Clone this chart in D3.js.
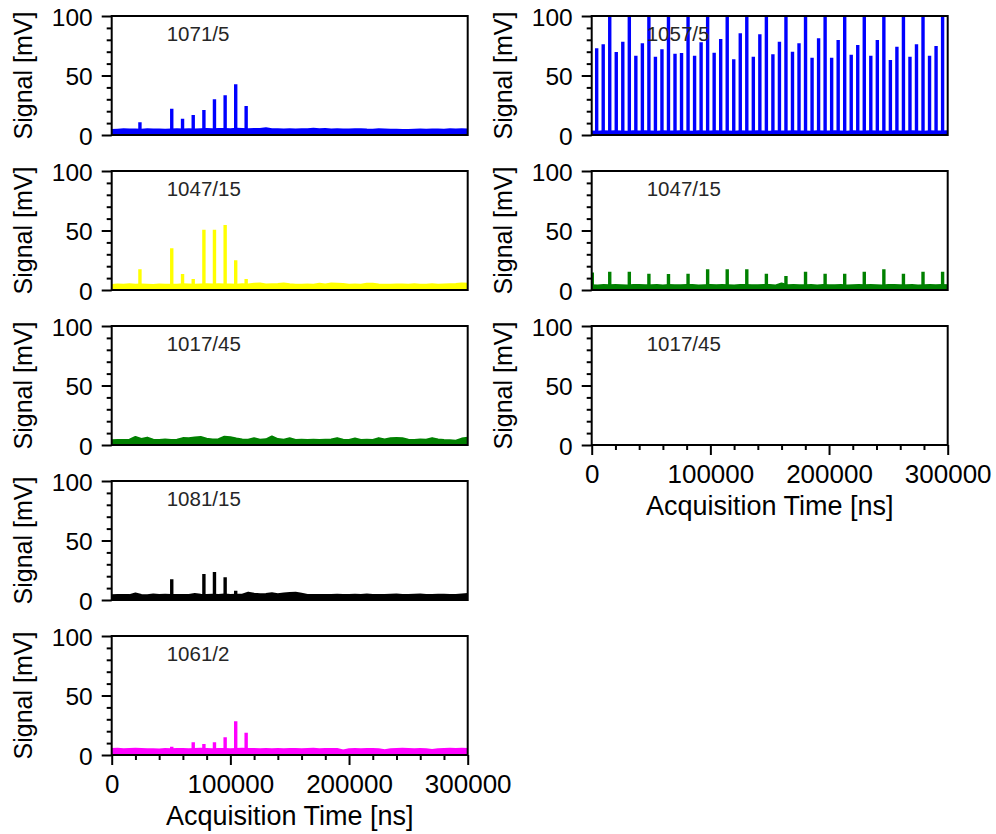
<!DOCTYPE html>
<html>
<head>
<meta charset="utf-8">
<script src="https://cdn.jsdelivr.net/npm/d3@7"></script>
<style>
  html, body { margin: 0; padding: 0; background: #fff; }
  svg { display: block; }
  text { font-family: "Liberation Sans", Arial, sans-serif; }
</style>
</head>
<body>
<svg id="chart" width="996" height="834"></svg>
<script>
// ---- Data -------------------------------------------------------------
// Channel names (filter wavelength / bandwidth)
const channelNames = ["1071/5", "1047/15", "1017/45", "1081/15", "1061/2", "1057/5", "1047/15", "1017/45"];

// Baseline sample times (ns) for the noise floor traces
const baselineTimes = d3.range(0, 300001, 5000);

// Noise floor (mV) per channel, one value per baseline sample
const base1071 = [4.2,4.5,4.8,4.6,4.7,4.5,4.8,4.6,4.7,4.5, 4.6,4.8,4.7,4.9,4.6,4.8,5.0,4.9,5.1,5.0,
  4.9,5.2,5.0,4.9,5.0,5.1,5.6,4.8,4.9,4.7, 4.8,4.6,4.9,4.8,5.2,4.8,5.0,4.7,4.8,4.6,
  4.6,4.8,4.9,4.6,4.5,4.9,4.7,4.5,4.4,4.3, 4.3,4.4,4.6,4.5,4.7,4.6,4.5,4.8,4.6,4.9,4.7];
const base1047a = [4.3,4.6,4.5,4.8,4.4,4.7,4.5,4.3,4.6,4.4, 4.5,4.4,4.8,4.6,4.5,4.7,4.9,4.6,4.8,4.7,
  4.6,4.5,4.8,4.6,5.2,5.5,4.7,4.8,5.0,5.4, 4.8,4.5,4.4,4.6,4.5,5.2,4.6,5.4,5.3,5.1,
  4.5,4.6,4.4,5.3,5.2,4.6,4.4,4.5,4.7,4.6, 4.4,4.8,4.5,4.5,4.9,4.4,4.6,4.8,5.0,5.4,5.3];
const base1017a = [4.0,4.3,4.2,4.5,6.8,5.0,6.2,4.4,4.3,4.6, 4.2,4.5,5.8,5.6,6.4,6.8,5.2,4.6,4.8,7.0,
  6.6,5.4,4.6,4.4,5.6,4.5,4.8,7.2,5.0,4.4, 5.6,4.3,4.5,4.2,4.4,4.3,4.5,4.6,5.8,4.4,
  4.3,5.4,4.2,4.5,4.3,5.8,4.6,5.6,5.8,5.6, 4.4,4.3,4.6,4.5,5.8,4.6,4.2,4.0,3.6,5.4,6.0];
const base1081 = [4.0,4.2,4.3,4.1,5.4,4.2,4.0,4.6,4.2,4.4, 4.1,4.3,4.2,4.3,5.0,4.4,4.3,4.5,4.2,4.6,
  4.3,4.4,4.5,6.2,5.2,4.8,5.0,5.6,4.9,5.4, 5.8,6.0,5.2,4.3,4.2,4.1,4.3,4.2,4.4,4.3,
  4.2,4.5,4.3,4.6,4.2,4.3,4.1,4.4,4.6,4.3, 4.2,4.4,4.7,4.3,4.2,4.4,4.5,4.3,4.2,4.6,5.0];
const base1061 = [5.0,5.2,4.8,5.1,5.3,5.0,4.8,4.9,4.7,5.0, 4.8,5.0,5.1,4.9,5.0,5.2,5.0,4.8,5.0,5.1,
  4.9,5.0,5.2,5.0,5.1,4.9,5.0,4.8,5.0,4.9, 5.1,5.0,4.8,5.0,5.2,4.9,5.0,5.1,5.0,3.8,
  4.8,5.0,4.9,5.1,5.0,4.9,4.0,4.8,5.0,5.2, 5.1,4.9,5.0,4.8,4.2,4.9,5.0,5.2,5.1,5.3,5.0];
const base1057 = [3.0,2.8,3.2,2.9,3.1,3.0,2.7,3.1,2.9,3.2, 3.0,2.8,3.1,3.0,2.9,3.2,3.0,2.8,3.1,2.9,
  3.0,3.2,2.9,3.0,2.8,3.1,3.0,2.9,3.2,3.0, 2.8,3.1,2.9,3.0,3.2,2.9,3.0,2.8,3.1,3.0,
  2.9,3.2,3.0,2.8,3.1,2.9,3.0,3.2,2.9,3.0, 2.8,3.1,3.0,2.9,3.2,3.0,2.8,3.1,2.9,3.0,3.1];
const base1047b = [4.0,3.8,4.1,3.9,4.2,4.0,3.7,4.1,4.3,3.9, 4.0,4.2,3.8,4.1,4.0,3.9,4.3,4.1,3.8,4.0,
  4.2,3.9,4.1,4.0,3.8,4.2,4.1,3.9,4.0,4.3, 4.1,3.8,5.4,4.0,4.2,3.9,4.0,4.1,3.8,4.2,
  4.0,3.9,4.1,3.7,4.0,4.2,3.9,4.1,4.0,3.8, 4.2,4.1,3.9,4.0,4.3,3.8,4.0,4.1,3.9,4.2,4.0];

// Pulse times (ns) and pulse amplitudes (mV)
const pulseTimesA = [23800, 50600, 59700, 68700, 77700, 86600, 95600, 104500, 113300];
const peaks1071   = [10.7, 22.1, 13.7, 16.8, 21.0, 30.0, 33.4, 42.6, 24.4];
const peaks1047a  = [17.4, 35.0, 13.4, 9.2, 50.7, 50.7, 54.6, 25.0, 9.2];
const pulseTimes1081 = [50600, 77700, 86600, 95600, 104500];
const peaks1081      = [17.4, 21.8, 23.5, 19.1, 7.8];
const pulseTimes1061 = [50600, 68700, 77700, 86600, 95600, 104500, 113300];
const peaks1061      = [6.9, 10.8, 9.2, 10.8, 15.0, 28.4, 18.6];

const pulseTimes1057 = [4200, 9700, 15200, 20700, 26200, 31700, 37200, 42700, 48200, 53700,
  59200, 64700, 70200, 75700, 81200, 86700, 92200, 97700, 103200, 108700,
  114200, 119700, 125200, 130700, 136200, 141700, 147200, 152700, 158200, 163700,
  169200, 174700, 180200, 185700, 191200, 196700, 202200, 207700, 213200, 218700,
  224200, 229700, 235200, 240700, 246200, 251700, 257200, 262700, 268200, 273700,
  279200, 284700, 290200, 295700];
const peaks1057 = [72.8, 76.2, 130, 69.7, 78.4, 130, 66.7, 77.0, 130, 65.8,
  72.0, 130, 68.3, 68.9, 130, 66.7, 77.9, 130, 69.2, 80.7,
  130, 63.6, 85.4, 130, 65.8, 84.6, 130, 67.8, 78.4, 130,
  70.0, 77.0, 130, 65.0, 81.2, 130, 65.0, 79.8, 130, 67.5,
  75.6, 130, 66.7, 79.8, 130, 63.0, 74.2, 130, 65.8, 76.2,
  130, 66.7, 74.8, 130];
const pulseTimes1047b = [500, 15200, 31700, 48200, 64700, 81200, 97700, 114200, 130700, 147200,
  163700, 180200, 196700, 213200, 229700, 246200, 262700, 279200, 295700];
const peaks1047b = [14.8, 15.4, 15.4, 13.7, 13.4, 13.7, 17.4, 17.4, 17.4, 13.7,
  11.8, 15.4, 13.7, 13.7, 15.4, 17.4, 13.7, 15.4, 15.4];

// Axis ticks
const yMajorTicks = [0, 50, 100];
const yMinorTicks = [10, 20, 30, 40, 60, 70, 80, 90];
const xMajorTicks = [0, 100000, 200000, 300000];
const xMinorTicks = [20000, 40000, 60000, 80000, 120000, 140000, 160000, 180000, 220000, 240000, 260000, 280000];

// ---- Layout & styles --------------------------------------------------
const traceColors = ["#0000ff", "#ffff00", "#008000", "#000000", "#ff00ff", "#0000ff", "#008000", null];
const panelCol = [0, 0, 0, 0, 0, 1, 1, 1];
const panelRow = [0, 1, 2, 3, 4, 0, 1, 2];
const baselines = [base1071, base1047a, base1017a, base1081, base1061, base1057, base1047b, null];
const pulseTimes = [pulseTimesA, pulseTimesA, [], pulseTimes1081, pulseTimes1061, pulseTimes1057, pulseTimes1047b, []];
const pulsePeaks = [peaks1071, peaks1047a, [], peaks1081, peaks1061, peaks1057, peaks1047b, []];
const showXAxis = [false, false, false, false, true, false, false, true];

const colLeft = [111.7, 591.7];
const plotW = 356;
const rowTop = [16, 171, 326, 481, 636];
const plotH = 119;

const svg = d3.select("#chart");
const fmt = d3.format("d");

channelNames.forEach((name, i) => {
  const left = colLeft[panelCol[i]];
  const top = rowTop[panelRow[i]];
  const x = d3.scaleLinear().domain([0, 300000]).range([0, plotW]);
  const y = d3.scaleLinear().domain([0, 100]).range([plotH, 0]);

  const g = svg.append("g").attr("transform", `translate(${left},${top})`);

  const clipId = "clip" + i;
  g.append("clipPath").attr("id", clipId)
    .append("rect").attr("x", 0).attr("y", 0).attr("width", plotW).attr("height", plotH);

  const plot = g.append("g").attr("clip-path", `url(#${clipId})`);
  const color = traceColors[i];

  if (baselines[i]) {
    const pts = baselineTimes.map((t, k) => [t, baselines[i][k]]);
    // noise floor band
    plot.append("path")
      .datum(pts)
      .attr("fill", color)
      .attr("stroke", color)
      .attr("stroke-width", 2)
      .attr("stroke-linejoin", "round")
      .attr("d", d3.area().x(d => x(d[0])).y0(y(0)).y1(d => y(d[1]))(pts));

    // pulses
    plot.selectAll("line.pulse")
      .data(pulseTimes[i].map((t, k) => [t, pulsePeaks[i][k]]))
      .join("line")
      .attr("class", "pulse")
      .attr("x1", d => x(d[0])).attr("x2", d => x(d[0]))
      .attr("y1", y(0)).attr("y2", d => y(d[1]))
      .attr("stroke", color)
      .attr("stroke-width", 3.4);
  }

  // y axis: major + minor ticks
  const yMajor = g.append("g").call(d3.axisLeft(y).tickValues(yMajorTicks).tickSize(10).tickPadding(9).tickFormat(fmt));
  const yMinor = g.append("g").call(d3.axisLeft(y).tickValues(yMinorTicks).tickSize(5).tickFormat(""));
  [yMajor, yMinor].forEach(a => {
    a.select(".domain").remove();
    a.selectAll("line").attr("stroke", "#000").attr("stroke-width", 2);
  });
  yMajor.selectAll("text").attr("font-size", 24.5).attr("fill", "#000")
    .attr("font-family", "Liberation Sans, Arial, sans-serif").attr("dy", "0.38em");

  if (showXAxis[i]) {
    const xMajor = g.append("g").attr("transform", `translate(0,${plotH})`)
      .call(d3.axisBottom(x).tickValues(xMajorTicks).tickSize(10).tickPadding(9).tickFormat(fmt));
    const xMinor = g.append("g").attr("transform", `translate(0,${plotH})`)
      .call(d3.axisBottom(x).tickValues(xMinorTicks).tickSize(5).tickFormat(""));
    [xMajor, xMinor].forEach(a => {
      a.select(".domain").remove();
      a.selectAll("line").attr("stroke", "#000").attr("stroke-width", 2);
    });
    xMajor.selectAll("text").attr("font-size", 26).attr("fill", "#000")
      .attr("font-family", "Liberation Sans, Arial, sans-serif").attr("dy", "0.72em");

    g.append("text")
      .attr("x", plotW / 2).attr("y", plotH + 70)
      .attr("text-anchor", "middle")
      .attr("font-size", 27).attr("fill", "#000")
      .text("Acquisition Time [ns]");
  }

  // frame
  g.append("rect")
    .attr("x", 0).attr("y", 0).attr("width", plotW).attr("height", plotH)
    .attr("fill", "none").attr("stroke", "#000").attr("stroke-width", 2);

  // y label
  g.append("text")
    .attr("transform", `translate(-80,${plotH / 2}) rotate(-90)`)
    .attr("text-anchor", "middle")
    .attr("font-size", 25).attr("fill", "#000")
    .text("Signal [mV]");

  // channel name
  g.append("text")
    .attr("x", 55).attr("y", 25)
    .attr("font-size", 20.5).attr("fill", "#262626")
    .text(name);
});
</script>
</body>
</html>
